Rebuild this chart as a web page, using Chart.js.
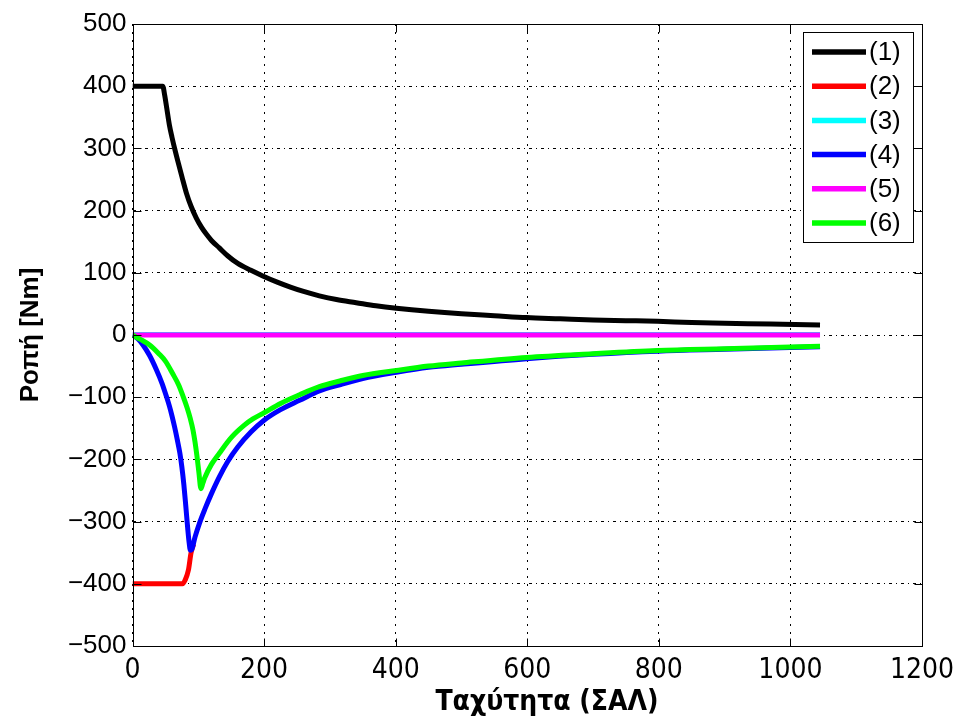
<!DOCTYPE html>
<html>
<head>
<meta charset="utf-8">
<title>Ροπή - Ταχύτητα</title>
<script src="https://cdn.jsdelivr.net/npm/chart.js@4"></script>
<style>body{margin:0;background:#fff}</style>
</head>
<body>
<canvas id="myChart" width="955" height="720"></canvas>
<script>
// series: speed (ΣΑΛ) and torque (Nm)
const seriesLabels = ['(1)', '(2)', '(3)', '(4)', '(5)', '(6)'];
const seriesColors = ['#000000', '#ff0000', '#00ffff', '#0000ff', '#ff00ff', '#00ff00'];

const speed1 = [0, 46, 49, 52, 56, 60, 64, 70, 75, 82, 89, 97, 105, 113, 120, 132, 145, 160, 180, 198, 220, 240, 260, 284, 310, 340, 370, 401, 450, 500, 550, 599, 650, 700, 750, 798, 850, 900, 970, 1045];
const torque1 = [400, 400, 385, 365, 338, 318, 300, 275, 255, 228, 207, 188, 173, 161, 152, 140, 127, 115, 104, 95, 85, 77, 70, 63, 57, 52, 47, 43, 38, 34, 31, 28, 26, 24, 23, 22, 20, 19, 17.5, 16];

const speed2 = [0, 76, 80, 85, 89, 93];
const torque2 = [-400, -400, -394, -378, -350, -336];

const speed3 = [0, 1045];
const torque3 = [1, 1];

const speed4 = [0, 8, 16, 26, 36, 45, 51, 56, 60, 64, 68, 72, 75, 78, 81, 84, 86, 88, 90, 95, 102, 110, 120, 132, 145, 160, 180, 200, 225, 254, 284, 315, 350, 401, 450, 500, 599, 700, 798, 900, 1045];
const torque4 = [0, -6, -16, -33, -55, -78, -97, -114, -130, -148, -168, -190, -212, -240, -275, -312, -333, -346, -345, -325, -302, -280, -255, -228, -203, -180, -156, -137, -120, -105, -90, -80, -70, -60, -52, -47, -38, -31, -26, -23, -19];

const speed5 = [0, 1045];
const torque5 = [0, 0];

const speed6 = [0, 12, 26, 40, 50, 61, 70, 77, 83, 88, 92, 95, 98, 101, 104, 107, 110, 120, 132, 150, 170, 183, 200, 225, 254, 284, 315, 350, 401, 450, 500, 599, 700, 798, 900, 1045];
const torque6 = [0, -7, -16, -30, -42, -62, -80, -99, -117, -135, -153, -172, -195, -222, -247, -238, -229, -208, -190, -165, -145, -135, -125, -110, -96, -83, -74, -65, -57, -50, -45, -36, -30, -25, -22, -18];

const speeds = [speed1, speed2, speed3, speed4, speed5, speed6];
const torques = [torque1, torque2, torque3, torque4, torque5, torque6];

const xTicks = [0, 200, 400, 600, 800, 1000, 1200];
const yTicks = [-500, -400, -300, -200, -100, 0, 100, 200, 300, 400, 500];

const datasets = seriesLabels.map((label, i) => ({
  label: label,
  data: speeds[i].map((s, j) => ({ x: s, y: torques[i][j] })),
  borderColor: seriesColors[i],
  backgroundColor: seriesColors[i],
  borderWidth: 5,
  pointRadius: 0,
  cubicInterpolationMode: 'monotone',
  borderJoinStyle: 'round',
  borderCapStyle: 'butt',
  order: seriesLabels.length - i  // later series drawn on top, like matlab
}));

// axis box with inward ticks on all four sides
const axisBox = {
  id: 'axisBox',
  afterDatasetsDraw(chart) {
    const { ctx, chartArea: a, scales: { x, y } } = chart;
    const L = Math.round(a.left) + 0.5, R = Math.round(a.right) + 0.5;
    const T = Math.round(a.top) + 0.5, B = Math.round(a.bottom) + 0.5;
    ctx.save();
    ctx.strokeStyle = '#000';
    ctx.lineWidth = 1;
    ctx.beginPath();
    xTicks.forEach(v => {
      const p = Math.round(x.getPixelForValue(v)) + 0.5;
      ctx.moveTo(p, B); ctx.lineTo(p, B - 8);
      ctx.moveTo(p, T); ctx.lineTo(p, T + 8);
    });
    yTicks.forEach(v => {
      const p = Math.round(y.getPixelForValue(v)) + 0.5;
      ctx.moveTo(L, p); ctx.lineTo(L + 8, p);
      ctx.moveTo(R, p); ctx.lineTo(R - 8, p);
    });
    ctx.stroke();
    ctx.strokeRect(L, T, R - L, B - T);
    ctx.restore();
  }
};

// matlab style legend box in the top right corner
const boxLegend = {
  id: 'boxLegend',
  afterDraw(chart) {
    const ctx = chart.ctx;
    ctx.save();
    ctx.fillStyle = '#fff';
    ctx.fillRect(803.5, 32.5, 110, 210);
    ctx.strokeStyle = '#000';
    ctx.lineWidth = 1;
    ctx.strokeRect(803.5, 32.5, 110, 210);
    ctx.font = '26px "Liberation Sans", Arial, sans-serif';
    ctx.textBaseline = 'middle';
    chart.data.datasets.forEach((ds, i) => {
      const yy = 52 + i * 34.2;
      ctx.strokeStyle = ds.borderColor;
      ctx.lineWidth = 5.5;
      ctx.beginPath();
      ctx.moveTo(812, yy); ctx.lineTo(866, yy);
      ctx.stroke();
      ctx.fillStyle = '#000';
      ctx.fillText(ds.label, 869, yy + 1);
    });
    // x axis title
    ctx.font = 'bold 28px "DejaVu Sans Condensed", "Liberation Sans", sans-serif';
    ctx.textAlign = 'center';
    ctx.fillText('Ταχύτητα (ΣΑΛ)', 547, 703);
    ctx.restore();
  }
};

new Chart(document.getElementById('myChart'), {
  type: 'line',
  data: { datasets: datasets },
  options: {
    responsive: false,
    animation: false,
    devicePixelRatio: 1,
    layout: { padding: { top: 24, right: 33, left: 0, bottom: 0 } },
    plugins: { legend: { display: false }, tooltip: { enabled: false } },
    scales: {
      x: {
        type: 'linear',
        min: 0, max: 1200,
        afterBuildTicks: s => { s.ticks = xTicks.map(v => ({ value: v })); },
        afterFit: s => { s.height = 74; s.paddingLeft = 0; s.paddingRight = 0; },
        grid: { color: '#000', lineWidth: 1, drawTicks: false },
        border: { display: false, dash: [2, 6] },
        ticks: {
          autoSkip: false, maxRotation: 0, padding: 8, color: '#000',
          font: { family: '"DejaVu Sans Condensed", "Liberation Sans", sans-serif', size: 28 },
          callback: v => String(v)
        }
      },
      y: {
        type: 'linear',
        min: -500, max: 500,
        afterBuildTicks: s => { s.ticks = yTicks.map(v => ({ value: v })); },
        afterFit: s => { s.width = 132.5; s.paddingTop = 0; s.paddingBottom = 0; },
        grid: { color: '#000', lineWidth: 1, drawTicks: false },
        border: { display: false, dash: [3, 4, 1, 4] },
        ticks: {
          padding: 6, color: '#000',
          font: { family: '"Liberation Sans", Arial, sans-serif', size: 26 },
          callback: v => String(v).replace('-', '\u2212')
        },
        title: {
          display: true, text: 'Ροπή [Nm]', color: '#000',
          padding: { top: 15, bottom: 0 },
          font: { family: '"Liberation Sans", Arial, sans-serif', size: 26, weight: 'bold' }
        }
      }
    }
  },
  plugins: [axisBox, boxLegend]
});
</script>
</body>
</html>
